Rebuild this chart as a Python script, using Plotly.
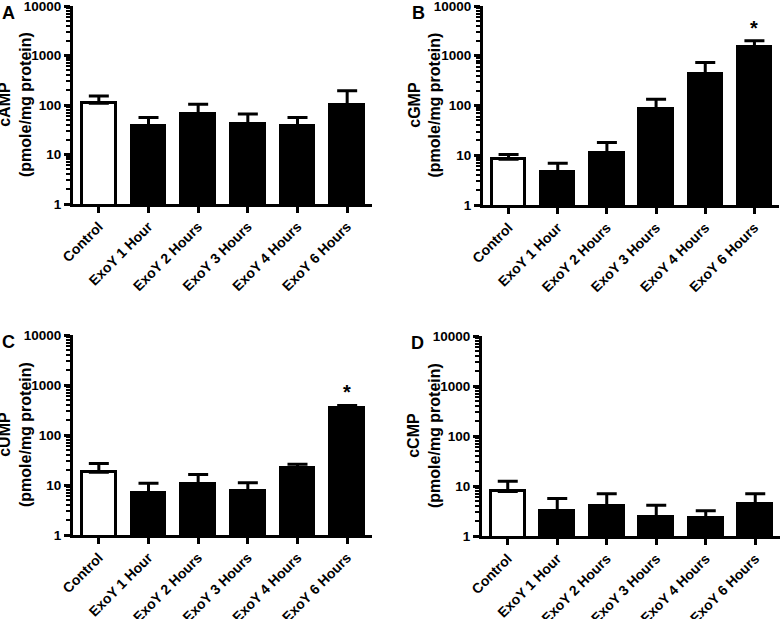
import math
import plotly.graph_objects as go

categories = ["Control", "ExoY 1 Hour", "ExoY 2 Hours", "ExoY 3 Hours", "ExoY 4 Hours", "ExoY 6 Hours"]

camp_mean = [108, 38, 65, 41, 38, 100]
camp_upper = [152, 56, 103, 66, 56, 195]

cgmp_mean = [8.3, 4.7, 10.9, 87, 420, 1480]
cgmp_upper = [10.4, 6.9, 18, 133, 735, 2000]

cump_mean = [18, 6.8, 10.3, 7.7, 21.6, 353]
cump_upper = [27, 10.8, 16.3, 11.1, 25.9, 390]

ccmp_mean = [7.8, 3.2, 4.0, 2.4, 2.3, 4.4]
ccmp_upper = [12.4, 5.6, 7.0, 4.1, 3.2, 7.0]

panel_letters = ["A", "B", "C", "D"]
y_titles = ["cAMP", "cGMP", "cUMP", "cCMP"]
significant = [[], [5], [5], []]

ytick_vals = [1, 10, 100, 1000, 10000]
ytick_text = ["1", "10", "100", "1000", "10000"]

FONT = "Arial, Liberation Sans, sans-serif"
W, H = 781, 619

# pixel layout of each panel (left, right, top, bottom)
panels_px = [(73, 372, 6, 204), (483, 779, 6, 205), (73, 372, 335, 535), (482, 780, 336, 536)]

data = [(camp_mean, camp_upper), (cgmp_mean, cgmp_upper), (cump_mean, cump_upper), (ccmp_mean, ccmp_upper)]

fig = go.Figure()
xidx = list(range(len(categories)))
for i, ((mean, upper), (l, r, t, b)) in enumerate(zip(data, panels_px)):
    n = "" if i == 0 else str(i + 1)
    colors = ["white"] + ["black"] * (len(categories) - 1)
    fig.add_trace(go.Bar(
        x=xidx, y=mean, width=0.68,
        marker=dict(color=colors, line=dict(color="black", width=3)),
        error_y=dict(type="data", symmetric=False,
                     array=[u - m for u, m in zip(upper, mean)],
                     arrayminus=[0] * len(mean),
                     color="black", thickness=3, width=10),
        xaxis="x" + n, yaxis="y" + n, showlegend=False,
    ))
    xdom = [l / W, r / W]
    ydom = [1 - b / H, 1 - t / H]
    fig.layout["xaxis" + n] = dict(
        domain=xdom, anchor="y" + n, range=[-0.52, 5.5], automargin=False,
        tickmode="array", tickvals=xidx, ticktext=categories, tickangle=-45,
        ticklabeloverflow="allow",
        showline=True, linewidth=3, linecolor="black",
        ticks="outside", ticklen=6, tickwidth=3, tickcolor="black",
        showgrid=False, zeroline=False,
        tickfont=dict(family=FONT, size=14, color="black", weight="bold"),
    )
    fig.layout["yaxis" + n] = dict(
        domain=ydom, anchor="x" + n, type="log", range=[0, 4], automargin=False,
        tickmode="array", tickvals=ytick_vals, ticktext=ytick_text,
        ticklabeloverflow="allow",
        showline=True, linewidth=3, linecolor="black",
        ticks="outside", ticklen=6, tickwidth=3, tickcolor="black",
        minor=dict(ticks="outside", ticklen=4, tickwidth=2, tickcolor="black",
                   showgrid=False, tickmode="array",
                   tickvals=[m * 10 ** d for d in range(4) for m in range(2, 10)]),
        showgrid=False, zeroline=False,
        tickfont=dict(family=FONT, size=13.5, color="black", weight="bold"),
    )
    # y-axis title
    fig.add_annotation(
        xref="paper", yref="paper", x=(l - 58) / W, y=1 - (t + b) / 2 / H,
        text="<b>" + y_titles[i] + "</b><br><b>(pmole/mg protein)</b>",
        textangle=-90, showarrow=False, xanchor="center", yanchor="middle",
        font=dict(family=FONT, size=16, color="black"),
    )
    # panel letter
    fig.add_annotation(
        xref="paper", yref="paper", x=(l - 73) / W, y=1 - (t - 5) / H,
        text="<b>" + panel_letters[i] + "</b>", showarrow=False,
        xanchor="left", yanchor="top",
        font=dict(family=FONT, size=18, color="black"),
    )
    for k in significant[i]:
        fig.add_annotation(
            xref="x" + n, yref="y" + n, x=k, y=math.log10(upper[k]),
            text="<b>*</b>", showarrow=False, yanchor="bottom", yshift=0,
            font=dict(family=FONT, size=20, color="black"),
        )

fig.update_layout(
    width=W, height=H, margin=dict(l=0, r=0, t=0, b=0),
    paper_bgcolor="white", plot_bgcolor="white", bargap=0,
)
fig.write_html("out.html", config={"displayModeBar": False},
               post_script="document.body.style.margin='0px';document.body.style.overflow='hidden';")
